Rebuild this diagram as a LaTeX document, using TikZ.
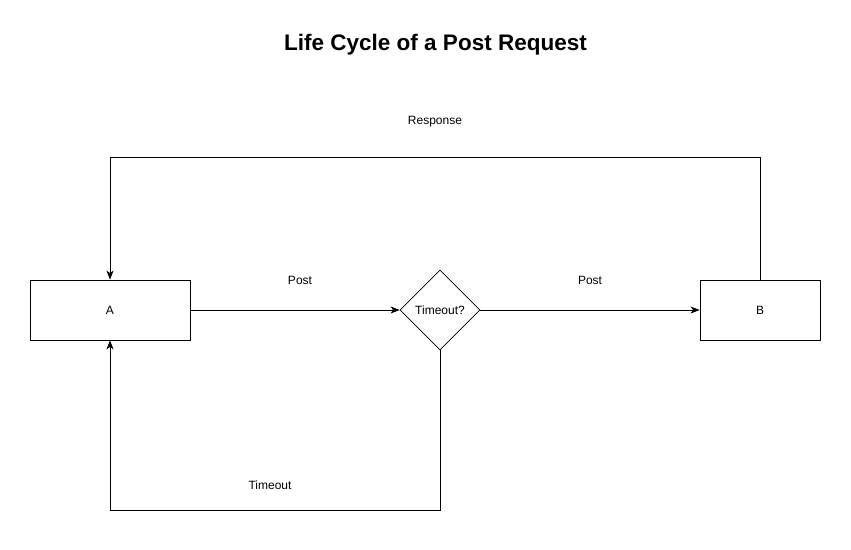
\documentclass[tikz,border=0pt]{standalone}
\usepackage{fontspec}
\setmainfont{Liberation Sans}
\usetikzlibrary{shapes.geometric,arrows.meta}
\begin{document}
\begin{tikzpicture}[x=1pt,y=-1pt,
  box/.style={draw,line width=0.8pt,minimum width=160pt,minimum height=60pt,inner sep=0pt,font=\fontsize{12}{14}\selectfont},
  dec/.style={draw,diamond,line width=0.8pt,minimum width=80pt,minimum height=80pt,inner sep=0pt,aspect=1,font=\fontsize{12}{14}\selectfont},
  conn/.style={line width=0.8pt,-{Stealth[length=9pt,width=7pt,inset=2.5pt]}},
  lbl/.style={font=\fontsize{12}{14}\selectfont}]
\useasboundingbox (0,0) rectangle (851,549);
\fill[white] (0,0) rectangle (851,549);
\node[font=\bfseries\fontsize{22.5}{26}\selectfont] (title) at (435.5,45) {Life Cycle of a Post Request};
\node[box] (A) at (110,310) {A};
\node[box,minimum width=120pt] (B) at (760,310) {B};
\node[dec] (D) at (440,310) {Timeout?};
\coordinate (r1) at (760,157);
\coordinate (r2) at (110,157);
\coordinate (t1) at (440,510);
\coordinate (t2) at (110,510);
\draw[conn] (A.east) -- (D.west);
\draw[conn] (D.east) -- (B.west);
\draw[conn] (B.north) -- (r1) -- (r2) -- (A.north);
\draw[conn] (D.south) -- (t1) -- (t2) -- (A.south);
\node[lbl] (lp1) at (300,280) {Post};
\node[lbl] (lp2) at (590,280) {Post};
\node[lbl] (lr) at (435,122) {Response};
\node[lbl] (lt) at (270,485) {Timeout};
\end{tikzpicture}
\end{document}
